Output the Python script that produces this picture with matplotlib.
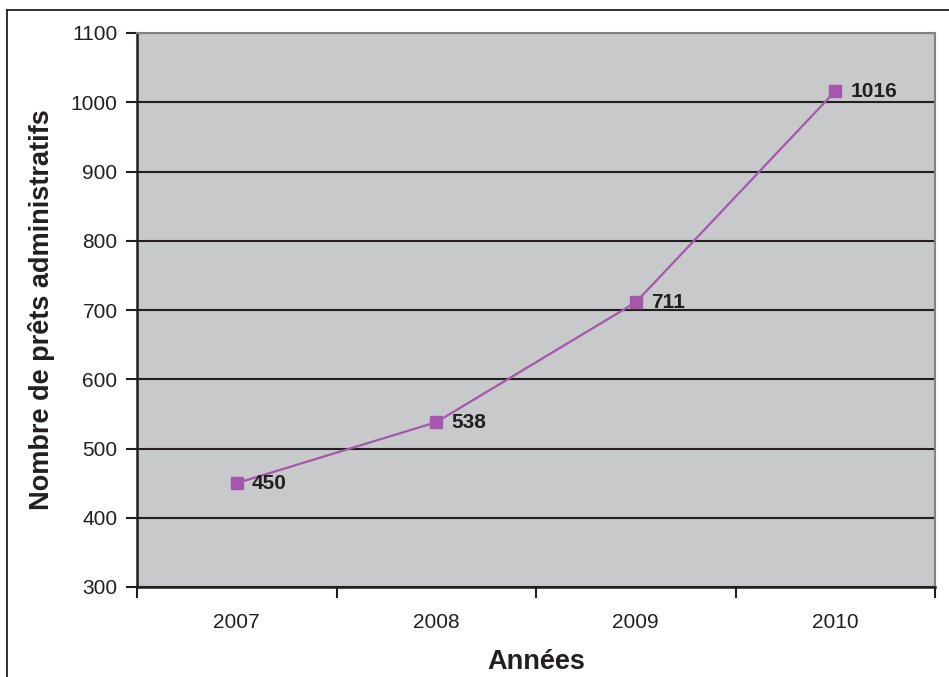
import matplotlib.pyplot as plt
from matplotlib.lines import Line2D

# Donnees
annees = ["2007", "2008", "2009", "2010"]
prets = [450, 538, 711, 1016]
y_ticks = [300, 400, 500, 600, 700, 800, 900, 1000, 1100]

plt.rcParams['font.family'] = ['Liberation Sans', 'DejaVu Sans']

fig = plt.figure(figsize=(9.49, 6.77), dpi=100)
ax = fig.add_axes([137/949, 1 - 587/677, (935 - 137)/949, (587 - 33)/677])
ax.set_facecolor('#c8c9cb')

x = list(range(len(annees)))
ax.plot(x, prets, color='#a557ad', lw=1.6, marker='s', ms=8,
        markerfacecolor='#a557ad', markeredgecolor='#a557ad', zorder=3)
for xi, v in zip(x, prets):
    ax.annotate(str(v), (xi, v), xytext=(11, 0), textcoords='offset points',
                ha='left', va='center', fontsize=15, fontweight='bold', color='#231f20')

ax.set_xlim(-0.5, len(annees) - 0.5)
ax.set_ylim(300, 1100)
ax.set_yticks(y_ticks)
ax.set_xticks([i - 0.5 for i in range(len(annees) + 1)])
ax.set_xticklabels([])
ax.set_xticks(x, minor=True)
ax.set_xticklabels(annees, minor=True)
ax.tick_params(axis='x', which='minor', length=0, pad=19, labelsize=15, colors='#231f20')
ax.tick_params(axis='x', which='major', length=8, width=1.5, direction='out', color='#231f20')
ax.tick_params(axis='y', length=8, width=1.5, direction='out', labelsize=15, color='#231f20',
               labelcolor='#231f20', pad=6)

ax.grid(axis='y', color='#231f20', lw=1.5)
ax.set_axisbelow(True)
for s in ['left', 'bottom']:
    ax.spines[s].set_color('#231f20')
    ax.spines[s].set_linewidth(1.8)
for s in ['top', 'right']:
    ax.spines[s].set_color('#808285')
    ax.spines[s].set_linewidth(1.5)

ax.set_ylabel("Nombre de prêts administratifs", fontsize=19.5, fontweight='bold', color='#231f20')
ax.yaxis.set_label_coords(-0.103, 0.5)
ax.set_xlabel("Années", fontsize=19.5, fontweight='bold', color='#231f20', labelpad=12)

# cadre exterieur
fig.add_artist(Line2D([7/949, 7/949], [0, 1 - 10/677], color='#231f20', lw=1.3))
fig.add_artist(Line2D([7/949, 1], [1 - 10/677, 1 - 10/677], color='#231f20', lw=1.3))

fig.savefig('out.png', dpi=100)
